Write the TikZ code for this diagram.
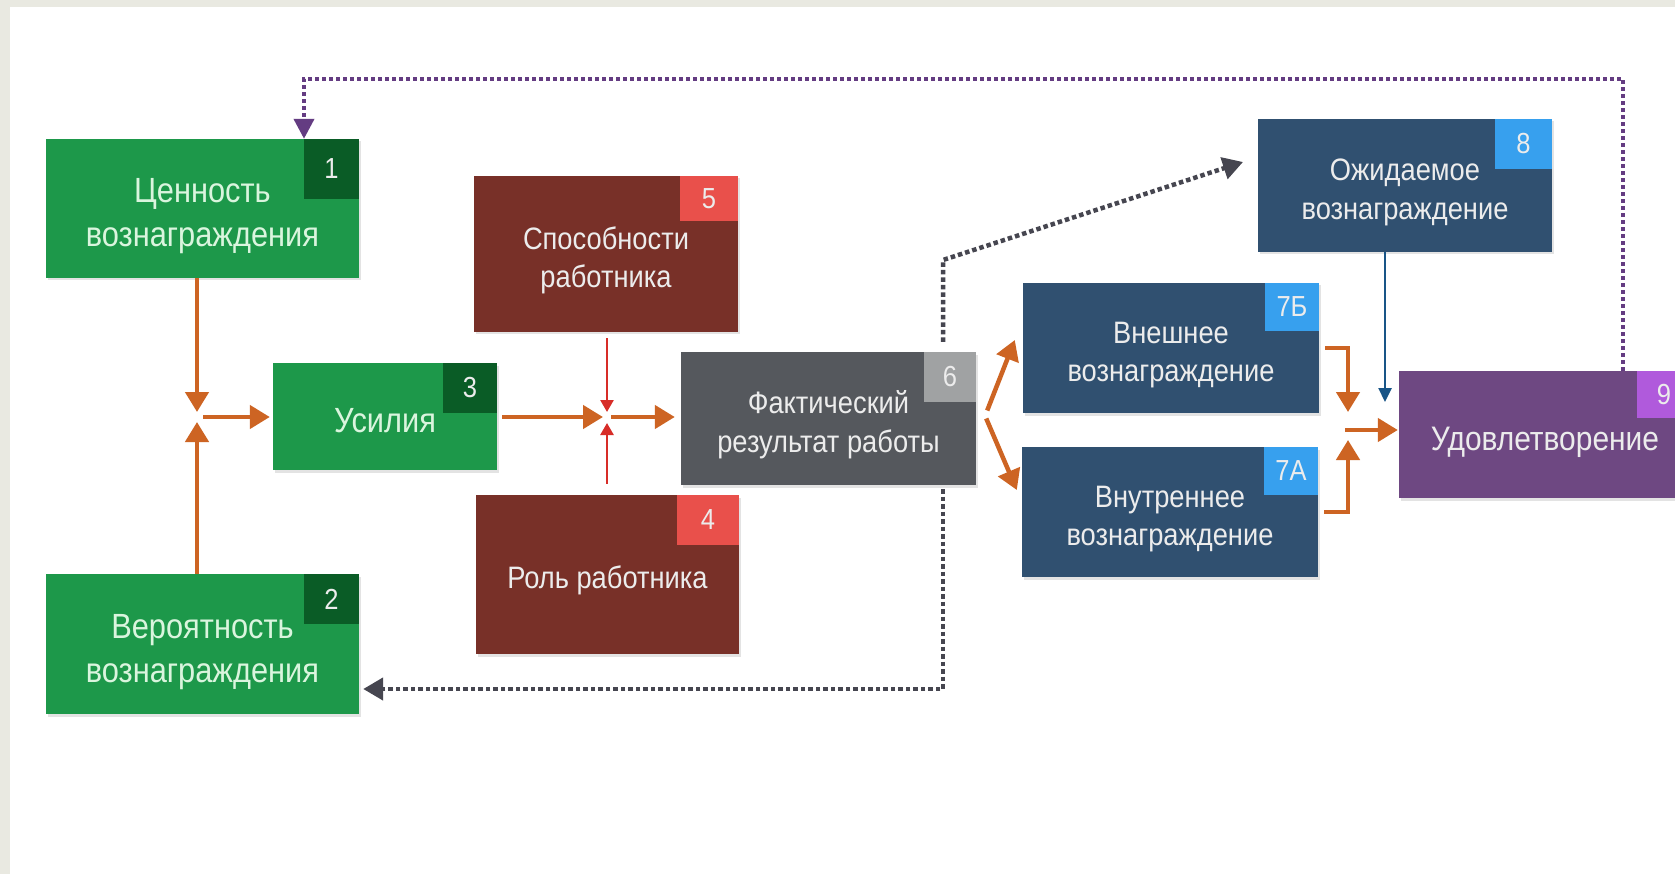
\documentclass[tikz,border=0pt]{standalone}
\usepackage{fontspec}
\setmainfont{Liberation Sans}[FakeStretch=0.88]
\usetikzlibrary{arrows.meta,shadows}
\definecolor{bgborder}{RGB}{233,233,225}
\definecolor{cgreen}{RGB}{29,152,74}
\definecolor{cgbadge}{RGB}{10,92,38}
\definecolor{cgtext}{RGB}{218,245,222}
\definecolor{cbrown}{RGB}{120,48,40}
\definecolor{cred}{RGB}{233,80,75}
\definecolor{cgray}{RGB}{85,88,93}
\definecolor{cgbadge2}{RGB}{160,162,163}
\definecolor{cblue}{RGB}{48,80,112}
\definecolor{cbbadge}{RGB}{55,160,238}
\definecolor{cpurple}{RGB}{110,72,130}
\definecolor{cpbadge}{RGB}{176,90,220}
\definecolor{corange}{RGB}{205,100,35}
\definecolor{credarr}{RGB}{215,45,40}
\definecolor{cbluearr}{RGB}{25,85,135}
\definecolor{cdotgray}{RGB}{70,70,80}
\definecolor{cdotpurple}{RGB}{100,60,130}
\definecolor{ctext}{RGB}{236,236,236}
\newcommand\boxtop{\rule{0pt}{1.15em}}
\newcommand\boxbot{\rule[-0.23em]{0pt}{0pt}}
\begin{document}
\begin{tikzpicture}[x=1pt,y=-1pt,
  box/.style={rectangle, inner sep=0pt, align=center,
    drop shadow={opacity=0.22,shadow xshift=1.5pt,shadow yshift=-2.5pt}},
  gbox/.style={box, fill=cgreen, text=cgtext, font=\fontsize{35}{44}\selectfont},
  rbox/.style={box, fill=cbrown, text=ctext, font=\fontsize{31}{38.5}\selectfont},
  graybox/.style={box, fill=cgray, text=ctext, font=\fontsize{31}{38.5}\selectfont},
  bbox/.style={box, fill=cblue, text=ctext, font=\fontsize{31}{38.5}\selectfont},
  pbox/.style={box, fill=cpurple, text=ctext, font=\fontsize{34}{40}\selectfont},
  badge/.style={rectangle, inner sep=0pt, anchor=north east, text=ctext,
    font=\fontsize{29}{29}\selectfont, minimum width=54pt, minimum height=50pt},
  oarr/.style={draw=corange, line width=4.5pt, -{Triangle[length=20pt,width=23pt]}},
  rarr/.style={draw=credarr, line width=2.5pt, -{Triangle[length=12pt,width=13pt]}},
  barr/.style={draw=cbluearr, line width=2.5pt, -{Triangle[length=14pt,width=13pt]}},
  gdot/.style={draw=cdotgray, line width=4.5pt, dash pattern=on 4.5pt off 3pt,
    -{Triangle[length=20pt,width=22pt]}},
  pdot/.style={draw=cdotpurple, line width=4pt, dash pattern=on 4pt off 3pt,
    -{Triangle[length=20pt,width=20pt]}},
]
\useasboundingbox (0,0) rectangle (1675,874);
\fill[bgborder] (0,0) rectangle (1675,874);
\fill[white] (10,7) rectangle (1675,874);

% boxes
\node[gbox, minimum width=313pt, minimum height=139pt] (B1) at (202.5,208.5) {\boxtop Ценность\\вознаграждения\boxbot};
\node[gbox, minimum width=313pt, minimum height=140pt] (B2) at (202.5,644) {\boxtop Вероятность\\вознаграждения\boxbot};
\node[gbox, minimum width=224pt, minimum height=107pt] (B3) at (385,416.5) {\boxtop Усилия\boxbot};
\node[rbox, minimum width=264pt, minimum height=156pt] (B5) at (606,254) {\boxtop Способности\\работника\boxbot};
\node[rbox, minimum width=263pt, minimum height=159pt] (B4) at (607.5,574.5) {\boxtop Роль работника\boxbot};
\node[graybox, minimum width=295pt, minimum height=133pt] (B6) at (828.5,418.5) {\boxtop Фактический\\результат работы\boxbot};
\node[bbox, minimum width=296pt, minimum height=130pt] (B7b) at (1171,348) {\boxtop Внешнее\\вознаграждение\boxbot};
\node[bbox, minimum width=296pt, minimum height=130pt] (B7a) at (1170,512) {\boxtop Внутреннее\\вознаграждение\boxbot};
\node[bbox, minimum width=294pt, minimum height=133pt] (B8) at (1405,185.5) {\boxtop Ожидаемое\\вознаграждение\boxbot};
\node[pbox, minimum width=292pt, minimum height=127pt] (B9) at (1545,434.5) {\boxtop Удовлетворение\boxbot};

% badges
\node[badge, fill=cgbadge, minimum width=55pt, minimum height=60pt] (n1) at (B1.north east) {1};
\node[badge, fill=cgbadge, minimum width=55pt] (n2) at (B2.north east) {2};
\node[badge, fill=cgbadge, minimum width=54pt] (n3) at (B3.north east) {3};
\node[badge, fill=cred, minimum width=58pt, minimum height=45pt] (n5) at (B5.north east) {5};
\node[badge, fill=cred, minimum width=62pt] (n4) at (B4.north east) {4};
\node[badge, fill=cgbadge2, minimum width=52pt] (n6) at (B6.north east) {6};
\node[badge, fill=cbbadge, minimum height=48pt] (n7b) at (B7b.north east) {7Б};
\node[badge, fill=cbbadge, minimum height=48pt] (n7a) at (B7a.north east) {7А};
\node[badge, fill=cbbadge, minimum width=57pt] (n8) at (B8.north east) {8};
\node[badge, fill=cpbadge, minimum height=47pt] (n9) at (B9.north east) {9};

% junction points
\coordinate (J1) at (197,417);
\coordinate (J2) at (607,417);
\coordinate (J3) at (1348,430);
\coordinate (J4) at (1385,402);
\coordinate (P1) at (1623,79);
\coordinate (P2) at (304,79);
\coordinate (D1) at (943,260);
\coordinate (D2) at (943,689);
\coordinate (T8) at (1243,162);

% orange / red connectors
\draw[oarr] (B1.south -| J1) -- ([yshift=5pt]J1);
\draw[oarr] (B2.north -| J1) -- ([yshift=-5pt]J1);
\draw[oarr, shorten >=3pt] ([xshift=6pt]J1) -- (B3.west |- J1);
\draw[oarr, shorten <=5pt] (B3.east |- J2) -- ([xshift=-4pt]J2);
\draw[rarr, shorten <=6pt] (B5.south -| J2) -- ([yshift=5pt]J2);
\draw[rarr, shorten <=11pt] (B4.north -| J2) -- ([yshift=-6pt]J2);
\draw[oarr, shorten >=6pt] ([xshift=4pt]J2) -- (B6.west |- J2);
\draw[oarr] ([xshift=11pt,yshift=8pt]B6.east) -- ([xshift=-8pt,yshift=8pt]B7b.west);
\draw[oarr] ([xshift=10pt,yshift=0pt]B6.east) -- ([xshift=-5pt,yshift=22pt]B7a.west);
\draw[oarr] ([xshift=6pt]B7b.east) -| ([yshift=18pt]J3);
\draw[oarr] ([xshift=6pt]B7a.east) -| ([yshift=-10pt]J3);
\draw[oarr, shorten >=1pt] ([xshift=-3pt]J3) -- (B9.west |- J3);
\draw[barr] (B8.south -| J4) -- (J4);

% dotted feedback connectors
\draw[pdot] (B9.north -| P1) -- (P1) -- (P2) -- (B1.north -| P2);
\draw[gdot] ([yshift=10pt]B6.north -| D1) -- (D1) -- (T8);
\draw[gdot, shorten >=4pt] ([yshift=-4pt]B6.south -| D2) -- (D2) -- (B2.east |- D2);
\end{tikzpicture}
\end{document}
